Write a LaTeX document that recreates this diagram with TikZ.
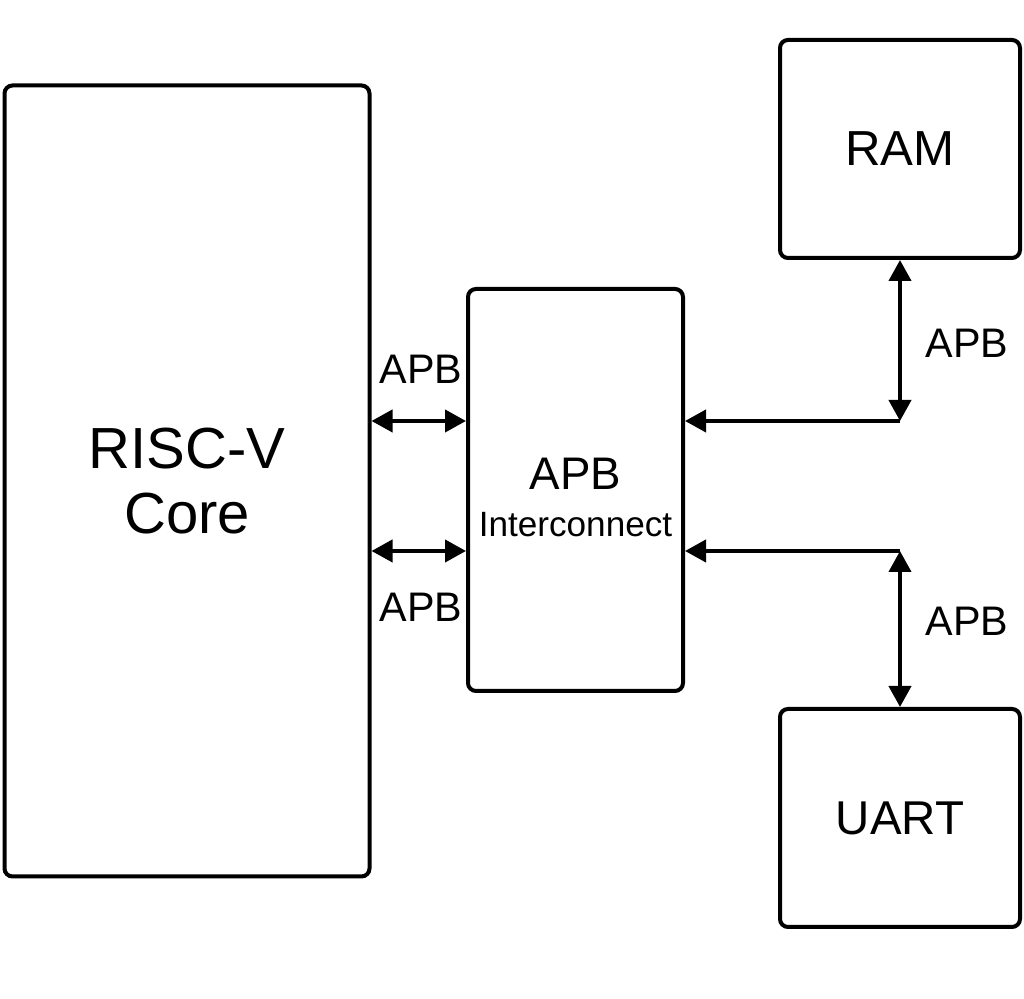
\documentclass[tikz,border=0pt]{standalone}
\usepackage{fontspec}
\setmainfont{Liberation Sans}
\usetikzlibrary{positioning}
\usetikzlibrary{arrows.meta}
\tikzset{
    mybox/.style = {rectangle, rounded corners=0.16cm, line width=0.08cm, draw=black, align=center, fill=white, text=black},
    mylabel/.style = {font=\fontsize{23.5}{26}\selectfont, inner sep=0},
    edgebi/.style = {{Triangle[length=0.42cm,width=0.44cm]}-{Triangle[length=0.42cm,width=0.44cm]}, line width=0.08cm, black},
    edgeto/.style = {-{Triangle[length=0.42cm,width=0.44cm]}, line width=0.08cm, black}
}
\begin{document}
\begin{tikzpicture}
\useasboundingbox (0,0) rectangle (20.48,19.98);
\node[mybox, minimum width=7.3cm, minimum height=15.82cm, font=\fontsize{33}{37}\selectfont] at ( 3.74, 10.36) (core) {RISC-V\\Core};
\node[mybox, minimum width=4.3cm, minimum height=8.04cm, font=\fontsize{20}{27}\selectfont] at (11.51, 10.18) (ic) {\rule{0pt}{0.93cm}\fontsize{26}{27}\selectfont APB\\\fontsize{20}{27}\selectfont Interconnect};
\node[mybox, minimum width=4.8cm, minimum height=4.36cm, font=\fontsize{28}{30}\selectfont] at (18.00, 17.00) (ram) {RAM};
\node[mybox, minimum width=4.8cm, minimum height=4.36cm, font=\fontsize{27}{30}\selectfont] at (18.00,  3.62) (uart) {UART};

\coordinate (j1) at (18.00, 11.56);
\coordinate (j2) at (18.00,  8.96);

% core <-> interconnect
\draw[edgebi] (core.east |- j1) -- (ic.west |- j1);
\draw[edgebi] (core.east |- j2) -- (ic.west |- j2);
\node[mylabel] at ( 8.42, 12.60) (l1) {APB};
\node[mylabel] at ( 8.42,  7.84) (l2) {APB};

% interconnect <-> ram, uart
\draw[edgebi] (ram.south) -- (j1);
\draw[edgeto] (j1) -- (ic.east |- j1);
\draw[edgebi] (uart.north) -- (j2);
\draw[edgeto] (j2) -- (ic.east |- j2);
\node[mylabel] at (19.34, 13.12) (l3) {APB};
\node[mylabel] at (19.34,  7.56) (l4) {APB};

\end{tikzpicture}
\end{document}
